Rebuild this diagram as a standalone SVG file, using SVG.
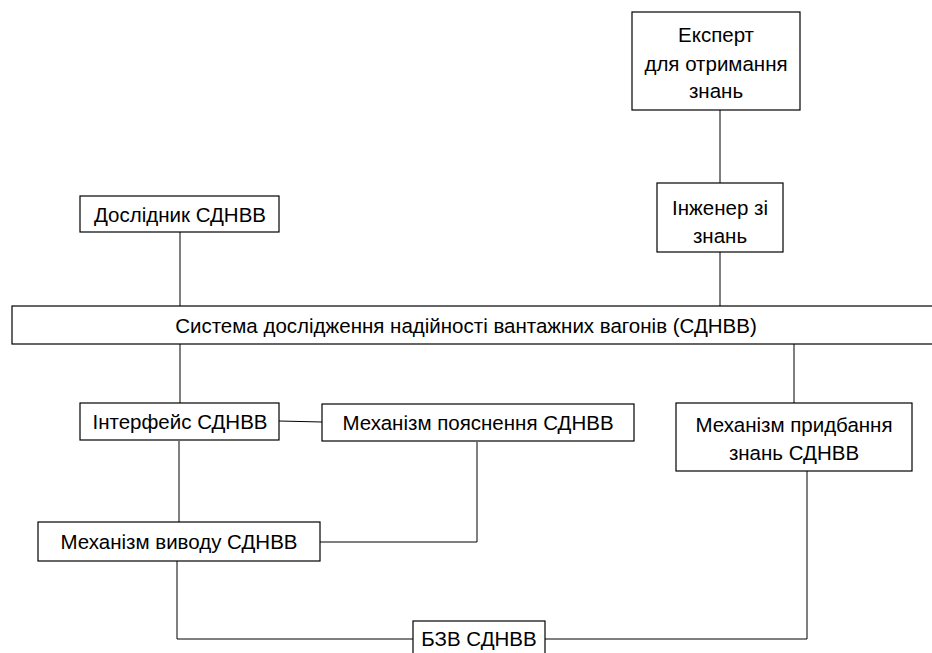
<svg xmlns="http://www.w3.org/2000/svg" width="932" height="653" viewBox="0 0 932 653">
<style>
rect{fill:#fff;stroke:#000;stroke-width:1.2}
text{font-family:"Liberation Sans",Arial,sans-serif;font-size:20.5px;fill:#000;text-anchor:middle}
#connectors path,#connectors line{stroke:#000;stroke-width:1;fill:none}
</style>
<rect x="0" y="0" width="932" height="653" style="stroke:none"/>
<g id="connectors">
<line x1="720" y1="110" x2="720" y2="183"/>
<line x1="720" y1="252" x2="720" y2="306"/>
<line x1="180" y1="232" x2="180" y2="306"/>
<line x1="180" y1="344" x2="180" y2="403"/>
<line x1="794" y1="344" x2="794" y2="403"/>
<line x1="279" y1="421" x2="322" y2="422"/>
<line x1="179" y1="441" x2="179" y2="522"/>
<path d="M477 442 V542 H320"/>
<path d="M177 561 V639 H413"/>
<path d="M545 639 H807 V471"/>
</g>
<g id="expert"><rect x="632" y="12" width="168" height="98"/>
<text x="716" y="42">Експерт</text><text x="716" y="71">для отримання</text><text x="716" y="98">знань</text></g>
<g id="engineer"><rect x="657" y="183" width="126" height="69"/>
<text x="720" y="215">Інженер зі</text><text x="720" y="243">знань</text></g>
<g id="researcher"><rect x="80" y="196" width="199" height="36"/>
<text x="180" y="222">Дослідник СДНВВ</text></g>
<g id="system"><rect x="12" y="306" width="925" height="38"/>
<text x="466" y="333">Система дослідження надійності вантажних вагонів (СДНВВ)</text></g>
<g id="interface"><rect x="80" y="403" width="199" height="37"/>
<text x="180" y="429">Інтерфейс СДНВВ</text></g>
<g id="explanation"><rect x="322" y="404" width="312" height="37"/>
<text x="478" y="430">Механізм пояснення СДНВВ</text></g>
<g id="acquisition"><rect x="676" y="403" width="236" height="68"/>
<text x="794" y="432">Механізм придбання</text><text x="794" y="460">знань СДНВВ</text></g>
<g id="inference"><rect x="38" y="522" width="282" height="39"/>
<text x="179" y="549">Механізм виводу СДНВВ</text></g>
<g id="kb"><rect x="413" y="621" width="132" height="40"/>
<text x="479" y="646">БЗВ СДНВВ</text></g>
</svg>
